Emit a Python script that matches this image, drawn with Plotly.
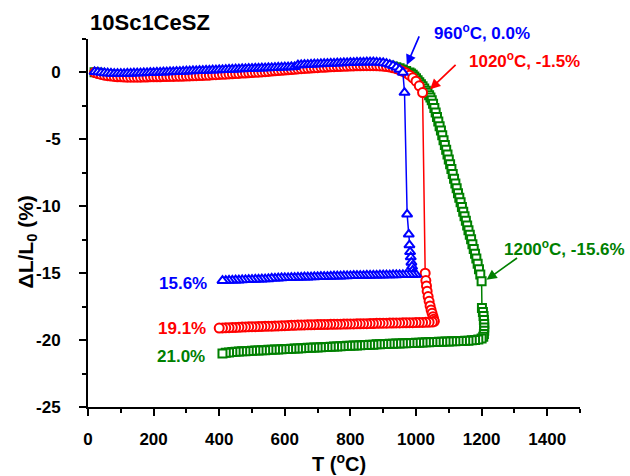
import plotly.graph_objects as go

# ---- 10Sc1CeSZ dilatometry: three sintering runs (heat -> hold -> cool) ----

# Blue run, peak 960 C
blue_heat_T = [20, 30, 40, 50, 60, 70, 80, 90, 100, 110, 120, 130, 140, 150, 160, 170, 180, 190,
               200, 210, 220, 230, 240, 250, 260, 270, 280, 290, 300, 310, 320, 330, 340, 350,
               360, 370, 380, 390, 400, 410, 420, 430, 440, 450, 460, 470, 480, 490, 500, 510,
               520, 530, 540, 550, 560, 570, 580, 590, 600, 610, 620, 630, 640, 650, 660, 670,
               680, 690, 700, 710, 720, 730, 740, 750, 760, 770, 780, 790, 800, 810, 820, 830,
               840, 850, 860, 870, 880, 890, 900, 910, 920, 930, 940, 950, 960]
blue_heat_dL = [0.05, 0.03, -0.01, -0.04, -0.06, -0.07, -0.08, -0.08, -0.08, -0.08, -0.07, -0.07,
                -0.06, -0.05, -0.05, -0.04, -0.03, -0.02, -0.01, 0.00, 0.01, 0.02, 0.03, 0.04,
                0.05, 0.06, 0.07, 0.08, 0.09, 0.10, 0.11, 0.12, 0.13, 0.14, 0.15, 0.16, 0.17,
                0.18, 0.19, 0.20, 0.21, 0.22, 0.23, 0.24, 0.25, 0.26, 0.27, 0.28, 0.29, 0.30,
                0.31, 0.32, 0.33, 0.34, 0.35, 0.36, 0.37, 0.38, 0.39, 0.40, 0.41, 0.42, 0.55,
                0.56, 0.58, 0.59, 0.60, 0.62, 0.63, 0.64, 0.65, 0.66, 0.67, 0.68, 0.69, 0.70,
                0.71, 0.72, 0.73, 0.74, 0.75, 0.76, 0.76, 0.77, 0.77, 0.77, 0.76, 0.74, 0.71,
                0.66, 0.59, 0.50, 0.38, 0.22, 0.00]
blue_hold_T = [965, 973, 978, 980, 982, 984, 986, 988, 990, 994, 998]
blue_hold_dL = [-1.5, -10.6, -12.1, -12.9, -13.4, -13.8, -14.2, -14.5, -14.8, -15.0, -15.1]
blue_cool_T = [1000, 990, 980, 970, 960, 950, 940, 930, 920, 910, 900, 890, 880, 870, 860, 850,
               840, 830, 820, 810, 800, 790, 780, 770, 760, 750, 740, 730, 720, 710, 700, 690,
               680, 670, 660, 650, 640, 630, 620, 610, 600, 590, 580, 570, 560, 550, 540, 530,
               520, 510, 500, 490, 480, 470, 460, 450, 440, 430, 420, 410]
blue_cool_dL = [-15.10, -15.10, -15.11, -15.11, -15.12, -15.12, -15.13, -15.13, -15.14, -15.14,
                -15.15, -15.15, -15.16, -15.16, -15.17, -15.17, -15.18, -15.18, -15.19, -15.19,
                -15.20, -15.21, -15.21, -15.22, -15.23, -15.23, -15.24, -15.25, -15.26, -15.26,
                -15.27, -15.28, -15.29, -15.30, -15.30, -15.31, -15.32, -15.33, -15.34, -15.35,
                -15.35, -15.36, -15.37, -15.38, -15.38, -15.43, -15.44, -15.45, -15.46, -15.47,
                -15.48, -15.49, -15.50, -15.51, -15.52, -15.52, -15.53, -15.54, -15.55, -15.56]

# Red run, peak 1020 C
red_heat_T = [20, 30, 40, 50, 60, 70, 80, 90, 100, 110, 120, 130, 140, 150, 160, 170, 180, 190,
              200, 210, 220, 230, 240, 250, 260, 270, 280, 290, 300, 310, 320, 330, 340, 350,
              360, 370, 380, 390, 400, 410, 420, 430, 440, 450, 460, 470, 480, 490, 500, 510,
              520, 530, 540, 550, 560, 570, 580, 590, 600, 610, 620, 630, 640, 650, 660, 670,
              680, 690, 700, 710, 720, 730, 740, 750, 760, 770, 780, 790, 800, 810, 820, 830,
              840, 850, 860, 870, 880, 890, 900, 910, 920, 930, 940, 950, 960, 970, 980, 990,
              1000, 1010, 1020]
red_heat_dL = [0.00, -0.08, -0.15, -0.20, -0.24, -0.27, -0.30, -0.32, -0.33, -0.34, -0.35, -0.35,
               -0.35, -0.35, -0.35, -0.34, -0.34, -0.33, -0.33, -0.32, -0.32, -0.31, -0.31, -0.30,
               -0.30, -0.29, -0.29, -0.28, -0.27, -0.26, -0.25, -0.24, -0.23, -0.22, -0.21, -0.20,
               -0.18, -0.17, -0.15, -0.14, -0.13, -0.11, -0.10, -0.08, -0.07, -0.05, -0.04, -0.03,
               -0.01, 0.01, 0.02, 0.04, 0.06, 0.08, 0.10, 0.12, 0.14, 0.16, 0.18, 0.20, 0.22,
               0.24, 0.26, 0.28, 0.30, 0.31, 0.33, 0.35, 0.36, 0.38, 0.39, 0.40, 0.42, 0.43,
               0.44, 0.45, 0.46, 0.47, 0.48, 0.49, 0.50, 0.50, 0.51, 0.51, 0.51, 0.51, 0.50,
               0.49, 0.47, 0.44, 0.40, 0.35, 0.28, 0.19, 0.08, -0.05, -0.20, -0.40, -0.65,
               -1.00, -1.50]
red_hold_T = [1028, 1030, 1032, 1034, 1037, 1040, 1043, 1046, 1049, 1052, 1054, 1056]
red_hold_dL = [-15.0, -15.55, -15.95, -16.35, -16.75, -17.1, -17.45, -17.75, -18.0, -18.25,
               -18.45, -18.6]
red_cool_T = [1050, 1040, 1030, 1020, 1010, 1000, 990, 980, 970, 960, 950, 940, 930, 920, 910,
              900, 890, 880, 870, 860, 850, 840, 830, 820, 810, 800, 790, 780, 770, 760, 750,
              740, 730, 720, 710, 700, 690, 680, 670, 660, 650, 640, 630, 620, 610, 600, 590,
              580, 570, 560, 550, 540, 530, 520, 510, 500, 490, 480, 470, 460, 450, 440, 430,
              420, 410, 400]
red_cool_dL = [-18.65, -18.66, -18.67, -18.68, -18.68, -18.69, -18.70, -18.70, -18.71, -18.71,
               -18.72, -18.72, -18.73, -18.73, -18.74, -18.74, -18.75, -18.75, -18.76, -18.76,
               -18.77, -18.77, -18.78, -18.78, -18.79, -18.79, -18.80, -18.80, -18.81, -18.81,
               -18.82, -18.82, -18.83, -18.83, -18.84, -18.84, -18.85, -18.86, -18.86, -18.87,
               -18.88, -18.88, -18.89, -18.90, -18.91, -18.92, -18.93, -18.94, -18.95, -18.96,
               -18.96, -18.97, -18.98, -18.99, -19.00, -19.00, -19.01, -19.02, -19.03, -19.04,
               -19.05, -19.06, -19.07, -19.08, -19.09, -19.10]

# Green run, peak 1200 C
green_heat_T = [20, 30, 40, 50, 60, 70, 80, 90, 100, 110, 120, 130, 140, 150, 160, 170, 180, 190,
                200, 210, 220, 230, 240, 250, 260, 270, 280, 290, 300, 310, 320, 330, 340, 350,
                360, 370, 380, 390, 400, 410, 420, 430, 440, 450, 460, 470, 480, 490, 500, 510,
                520, 530, 540, 550, 560, 570, 580, 590, 600, 610, 620, 630, 640, 650, 660, 670,
                680, 690, 700, 710, 720, 730, 740, 750, 760, 770, 780, 790, 800, 810, 820, 830,
                840, 850, 860, 870, 880, 890, 900, 910, 920, 930, 940, 950, 960, 970, 980, 985,
                990, 995, 1000, 1005, 1010, 1015, 1020, 1025, 1030, 1035, 1040, 1044, 1048, 1052,
                1056, 1060, 1064, 1068, 1072, 1076, 1080, 1084, 1088, 1092, 1096, 1100, 1104,
                1108, 1112, 1116, 1120, 1124, 1128, 1132, 1136, 1140, 1144, 1148, 1152, 1156,
                1160, 1164, 1168, 1172, 1176, 1180, 1184, 1188, 1192, 1196, 1200]
green_heat_dL = [0.02, -0.03, -0.08, -0.12, -0.15, -0.18, -0.20, -0.22, -0.23, -0.24, -0.25,
                 -0.25, -0.25, -0.25, -0.25, -0.24, -0.24, -0.23, -0.23, -0.22, -0.22, -0.21,
                 -0.21, -0.20, -0.20, -0.19, -0.19, -0.18, -0.17, -0.16, -0.15, -0.14, -0.13,
                 -0.12, -0.11, -0.10, -0.08, -0.07, -0.05, -0.04, -0.03, -0.01, 0.00, 0.02, 0.03,
                 0.05, 0.06, 0.07, 0.09, 0.11, 0.12, 0.14, 0.16, 0.18, 0.20, 0.22, 0.24, 0.26,
                 0.28, 0.30, 0.32, 0.34, 0.36, 0.38, 0.40, 0.41, 0.43, 0.45, 0.46, 0.48, 0.49,
                 0.50, 0.52, 0.53, 0.54, 0.55, 0.56, 0.57, 0.58, 0.59, 0.60, 0.60, 0.61, 0.61,
                 0.61, 0.61, 0.60, 0.59, 0.57, 0.54, 0.50, 0.45, 0.39, 0.31, 0.22, 0.11, 0.00,
                 -0.08, -0.18, -0.30, -0.43, -0.58, -0.73, -0.88, -1.04, -1.20, -1.36, -1.52,
                 -1.70, -1.88, -2.08, -2.34, -2.66, -3.00, -3.32, -3.67, -4.02, -4.34, -4.70,
                 -5.06, -5.42, -5.78, -6.14, -6.50, -6.86, -7.22, -7.58, -7.94, -8.30, -8.66,
                 -9.02, -9.36, -9.70, -10.05, -10.41, -10.74, -11.08, -11.44, -11.80, -12.12,
                 -12.47, -12.83, -13.19, -13.55, -13.91, -14.30, -14.70, -15.10, -15.60]
green_hold_T = [1201, 1204, 1206, 1207, 1208, 1208, 1208, 1207, 1205]
green_hold_dL = [-17.6, -17.9, -18.2, -18.5, -18.8, -19.05, -19.3, -19.55, -19.75]
green_cool_T = [1200, 1190, 1180, 1170, 1160, 1150, 1140, 1130, 1120, 1110, 1100, 1090, 1080,
                1070, 1060, 1050, 1040, 1030, 1020, 1010, 1000, 990, 980, 970, 960, 950, 940,
                930, 920, 910, 900, 890, 880, 870, 860, 850, 840, 830, 820, 810, 800, 790, 780,
                770, 760, 750, 740, 730, 720, 710, 700, 690, 680, 670, 660, 650, 640, 630, 620,
                610, 600, 590, 580, 570, 560, 550, 540, 530, 520, 510, 500, 490, 480, 470, 460,
                450, 440, 430, 420, 410]
green_cool_dL = [-19.88, -19.96, -20.00, -20.02, -20.04, -20.05, -20.06, -20.07, -20.08, -20.09,
                 -20.10, -20.11, -20.12, -20.13, -20.14, -20.15, -20.16, -20.17, -20.18, -20.19,
                 -20.20, -20.21, -20.22, -20.23, -20.24, -20.25, -20.26, -20.27, -20.28, -20.29,
                 -20.30, -20.31, -20.32, -20.34, -20.35, -20.36, -20.37, -20.38, -20.40, -20.41,
                 -20.42, -20.43, -20.45, -20.46, -20.47, -20.48, -20.50, -20.51, -20.52, -20.53,
                 -20.55, -20.56, -20.57, -20.58, -20.60, -20.61, -20.62, -20.63, -20.65, -20.66,
                 -20.67, -20.68, -20.70, -20.71, -20.72, -20.73, -20.75, -20.76, -20.77, -20.78,
                 -20.80, -20.81, -20.83, -20.84, -20.86, -20.87, -20.89, -20.92, -20.95, -21.00]

x_ticks = [0, 200, 400, 600, 800, 1000, 1200, 1400]
x_tick_text = ["0", "200", "400", "600", "800", "1000", "1200", "1400"]
y_ticks = [0, -5, -10, -15, -20, -25]
y_tick_text = ["0", "-5", "-10", "-15", "-20", "-25"]

BLUE, RED, GREEN = "#0000FF", "#FF0000", "#008000"
FONT = "Liberation Sans, Arial, sans-serif"

runs = [
    (green_heat_T + green_hold_T + green_cool_T, green_heat_dL + green_hold_dL + green_cool_dL,
     GREEN, "square", 8),
    (red_heat_T + red_hold_T + red_cool_T, red_heat_dL + red_hold_dL + red_cool_dL,
     RED, "circle", 9),
    (blue_heat_T + blue_hold_T + blue_cool_T, blue_heat_dL + blue_hold_dL + blue_cool_dL,
     BLUE, "triangle-up", 9),
]

fig = go.Figure()
for T, dL, col, sym, size in runs:
    fig.add_trace(go.Scatter(
        x=T, y=dL, mode="lines+markers",
        line=dict(color=col, width=1.5),
        marker=dict(symbol=sym, size=size, color="white", line=dict(color=col, width=2.0)),
        showlegend=False, cliponaxis=False,
    ))

def label(text, x, y, color, xanchor="center", size=17, ref="x"):
    fig.add_annotation(x=x, y=y, xref="x" if ref == "x" else "paper",
                       yref="y" if ref == "x" else "paper", text=text, showarrow=False,
                       xanchor=xanchor, yanchor="middle",
                       font=dict(family=FONT, size=size, color=color, weight="bold"))

def arrow(x, y, ax, ay, color):
    fig.add_annotation(x=x, y=y, xref="x", yref="y", ax=ax, ay=ay, text="",
                       showarrow=True, arrowhead=2, arrowsize=1.2, arrowwidth=1.7,
                       arrowcolor=color)

# peak-point callouts
label("960<sup>o</sup>C, 0.0%", 0.800, 1.0198, BLUE, ref="paper")
arrow(972, 0.56, 13, -30, BLUE)
label("1020<sup>o</sup>C, -1.5%", 1331, 0.93, RED)
arrow(1043, -1.26, 27, -26, RED)
label("1200<sup>o</sup>C, -15.6%", 1454, -13.12, GREEN)
arrow(1215, -15.5, 32, -23, GREEN)

# final shrinkage labels
label("15.6%", 368, -15.74, BLUE, xanchor="right")
label("19.1%", 365, -19.1, RED, xanchor="right")
label("21.0%", 362, -21.24, GREEN, xanchor="right")

# sample name and axis titles
fig.add_annotation(x=0, y=1.0435, xref="paper", yref="paper", text="10Sc1CeSZ",
                   showarrow=False, xanchor="left", yanchor="middle",
                   font=dict(family=FONT, size=22, color="black", weight="bold"))
fig.add_annotation(x=0.51, y=-0.152, xref="paper", yref="paper", text="T (<sup>o</sup>C)",
                   showarrow=False, xanchor="center", yanchor="middle",
                   font=dict(family=FONT, size=20, color="black", weight="bold"))
fig.add_annotation(x=-0.124, y=0.45, xref="paper", yref="paper", text="ΔL/L<sub>0</sub> (%)",
                   showarrow=False, textangle=-90, xanchor="center", yanchor="middle",
                   font=dict(family=FONT, size=21, color="black", weight="bold"))

axis_common = dict(
    showline=True, linecolor="black", linewidth=2, showgrid=False, zeroline=False,
    ticks="outside", ticklen=7, tickwidth=2, tickcolor="black",
    tickfont=dict(family=FONT, size=17, color="black", weight="bold"), mirror=False,
)
fig.update_xaxes(range=[0, 1500], tickvals=x_ticks, ticktext=x_tick_text,
                 minor=dict(dtick=100, ticklen=4, tickwidth=2, tickcolor="black", ticks="outside"),
                 ticklabelstandoff=9, **axis_common)
fig.update_yaxes(range=[-25, 2.5], tickvals=y_ticks, ticktext=y_tick_text,
                 minor=dict(dtick=2.5, ticklen=4, tickwidth=2, tickcolor="black", ticks="outside"),
                 ticklabelstandoff=15, **axis_common)

fig.update_layout(
    width=630, height=476,
    margin=dict(l=88, r=50, t=39, b=69),
    plot_bgcolor="white", paper_bgcolor="white",
    font=dict(family=FONT, color="black"),
)

fig.write_html("out.html")
